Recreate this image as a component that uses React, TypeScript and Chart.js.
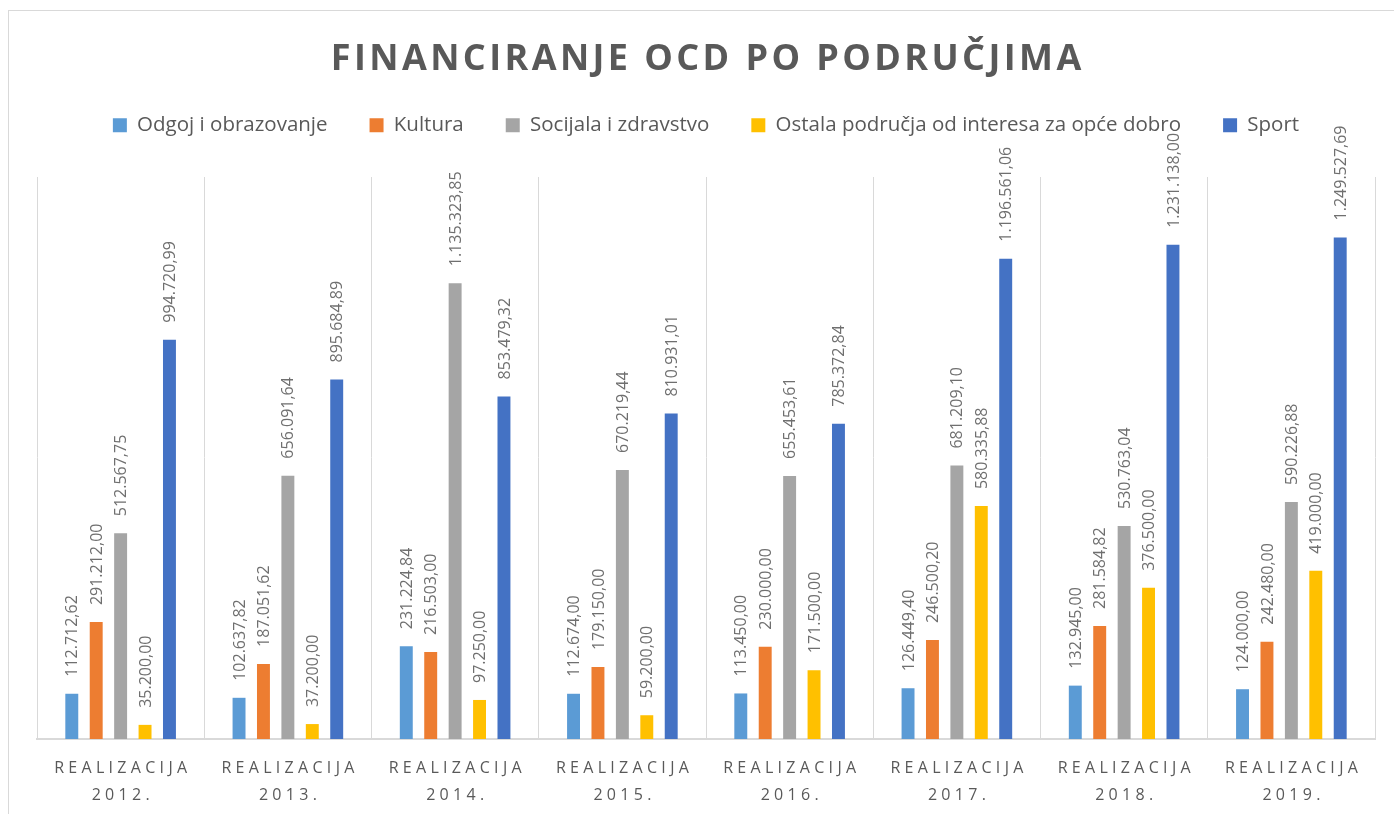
import React, { useEffect, useRef } from 'react';
import { Chart, registerables } from 'chart.js';

Chart.register(...registerables);

const titleText = 'FINANCIRANJE OCD PO PODRUČJIMA';
const axisLabelTop = 'REALIZACIJA';
const categories = ['2012.', '2013.', '2014.', '2015.', '2016.', '2017.', '2018.', '2019.'];

const seriesNames = [
  'Odgoj i obrazovanje',
  'Kultura',
  'Socijala i zdravstvo',
  'Ostala područja od interesa za opće dobro',
  'Sport',
];

const odgoj = [112712.62, 102637.82, 231224.84, 112674.0, 113450.0, 126449.4, 132945.0, 124000.0];
const kultura = [291212.0, 187051.62, 216503.0, 179150.0, 230000.0, 246500.2, 281584.82, 242480.0];
const socijala = [512567.75, 656091.64, 1135323.85, 670219.44, 655453.61, 681209.1, 530763.04, 590226.88];
const ostala = [35200.0, 37200.0, 97250.0, 59200.0, 171500.0, 580335.88, 376500.0, 419000.0];
const sport = [994720.99, 895684.89, 853479.32, 810931.01, 785372.84, 1196561.06, 1231138.0, 1249527.69];

const seriesValues = [odgoj, kultura, socijala, ostala, sport];
const seriesColors = ['#5B9BD5', '#ED7D31', '#A5A5A5', '#FFC000', '#4472C4'];

const yMax = 1400000;

const FONT = '"Open Sans", "Noto Sans", sans-serif';

const fmt = (v: number) => {
  const [i, d] = v.toFixed(2).split('.');
  return i.replace(/\B(?=(\d{3})+(?!\d))/g, '.') + ',' + d;
};

const legendSpacer = {
  id: 'legendSpacer',
  beforeInit(chart: any) {
    const legend = chart.legend;
    if (!legend) return;
    const orig = legend.fit;
    legend.fit = function () {
      orig.call(this);
      this.height += 31.5;
    };
  },
};

const dataLabels = {
  id: 'dataLabels',
  afterDatasetsDraw(chart: any) {
    const ctx = chart.ctx;
    chart.data.datasets.forEach((ds: any, i: number) => {
      const meta = chart.getDatasetMeta(i);
      meta.data.forEach((el: any, j: number) => {
        const v = ds.data[j];
        ctx.save();
        ctx.translate(el.x, el.y - 17);
        ctx.rotate(-Math.PI / 2);
        ctx.font = `16px ${FONT}`;
        ctx.fillStyle = '#6f6f6f';
        ctx.textAlign = 'left';
        ctx.textBaseline = 'middle';
        ctx.fillText(fmt(v), 0, 1);
        ctx.restore();
      });
    });
  },
};

const textDecor = {
  id: 'textDecor',
  afterDraw(chart: any) {
    const ctx = chart.ctx;
    // Title
    ctx.save();
    ctx.font = `bold 36px ${FONT}`;
    ctx.fillStyle = '#595959';
    ctx.textAlign = 'center';
    ctx.textBaseline = 'alphabetic';
    const tls = 3.4;
    (ctx as any).letterSpacing = `${tls}px`;
    ctx.fillText(titleText, chart.width / 2 + tls / 2, 60);
    ctx.restore();

    // Category labels
    const xs = chart.scales.x;
    ctx.save();
    ctx.font = `16px ${FONT}`;
    ctx.fillStyle = '#595959';
    ctx.textAlign = 'center';
    ctx.textBaseline = 'alphabetic';
    const ls = 4.3;
    (ctx as any).letterSpacing = `${ls}px`;
    categories.forEach((c, i) => {
      const x = xs.getPixelForValue(i) + ls / 2;
      ctx.fillText(axisLabelTop, x, 763);
      ctx.fillText(c, x, 790);
    });
    ctx.restore();
  },
};

export default function App() {
  const ref = useRef<HTMLCanvasElement | null>(null);

  useEffect(() => {
    if (!ref.current) return;
    const chart = new Chart(ref.current, {
      type: 'bar',
      data: {
        labels: categories,
        datasets: seriesNames.map((name, i) => ({
          label: name,
          data: seriesValues[i],
          backgroundColor: seriesColors[i],
          borderWidth: 0,
          categoryPercentage: 0.73,
          barPercentage: 0.53,
        })),
      },
      options: {
        responsive: false,
        animation: false,
        layout: { padding: { top: 63, left: 29, right: 29, bottom: 75 } },
        plugins: {
          legend: {
            position: 'top',
            labels: {
              boxWidth: 14,
              boxHeight: 14,
              padding: 42,
              color: '#595959',
              font: { size: 20.5, family: FONT },
            },
          },
          title: { display: false },
          tooltip: { enabled: false },
        },
        scales: {
          x: {
            grid: { color: '#d9d9d9', offset: true, drawTicks: false, lineWidth: 1 },
            border: { color: '#d9d9d9', width: 2 },
            ticks: { display: false },
          },
          y: { display: false, min: 0, max: yMax },
        },
      },
      plugins: [legendSpacer, dataLabels, textDecor],
    });
    return () => chart.destroy();
  }, []);

  return (
    <div
      style={{
        position: 'fixed',
        left: 0,
        top: 0,
        width: 1394,
        height: 814,
        overflow: 'hidden',
        background: '#ffffff',
      }}
    >
      <div
        style={{
          position: 'absolute',
          left: 8,
          top: 10,
          width: 1500,
          height: 900,
          border: '1px solid #d9d9d9',
          boxSizing: 'border-box',
        }}
      />
      <canvas
        ref={ref}
        width={1396}
        height={804}
        style={{ position: 'absolute', left: 8, top: 10, width: 1396, height: 804 }}
      />
    </div>
  );
}
